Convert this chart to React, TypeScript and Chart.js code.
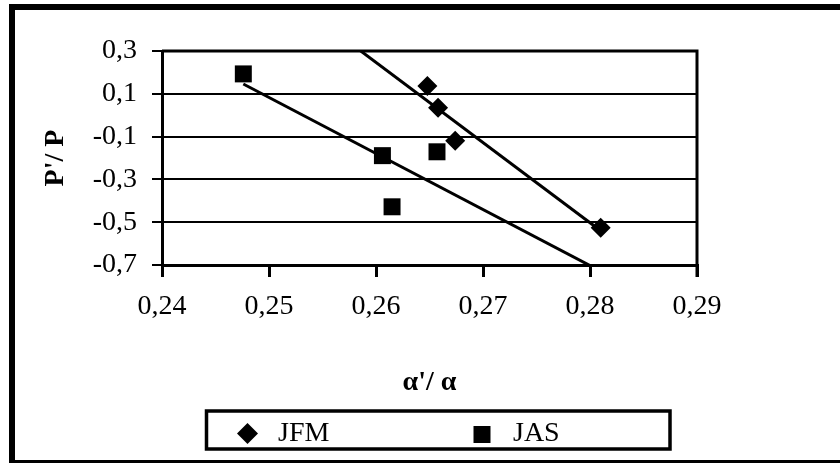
import React, { useEffect, useRef } from 'react';
import { Chart, registerables } from 'chart.js';

Chart.register(...registerables);

// ---- data ----
const seriesLabels = ['JFM', 'JAS'];
const jfmX = [0.2648, 0.2658, 0.2674, 0.281];
const jfmY = [0.136, 0.035, -0.119, -0.526];
const jasX = [0.2476, 0.2606, 0.2615, 0.2657];
const jasY = [0.193, -0.189, -0.428, -0.171];
const xTicks = [0.24, 0.25, 0.26, 0.27, 0.28, 0.29];
const yTicks = [0.3, 0.1, -0.1, -0.3, -0.5, -0.7];
const xTitle = "\u03b1'/ \u03b1";
const yTitle = "P'/ P";

const FONT = "'Liberation Serif', 'Times New Roman', serif";

function linFit(xs: number[], ys: number[]) {
  const n = xs.length;
  const mx = xs.reduce((a, b) => a + b, 0) / n;
  const my = ys.reduce((a, b) => a + b, 0) / n;
  let sxy = 0;
  let sxx = 0;
  for (let i = 0; i < n; i++) {
    sxy += (xs[i] - mx) * (ys[i] - my);
    sxx += (xs[i] - mx) * (xs[i] - mx);
  }
  const slope = sxy / sxx;
  return { slope, intercept: my - slope * mx };
}

function trend(xs: number[], ys: number[], x0: number, x1: number) {
  const { slope, intercept } = linFit(xs, ys);
  return [
    { x: x0, y: slope * x0 + intercept },
    { x: x1, y: slope * x1 + intercept },
  ];
}

const framePlugin = {
  id: 'frames',
  beforeDraw(chart: any) {
    const ctx = chart.ctx;
    ctx.save();
    ctx.fillStyle = '#ffffff';
    ctx.fillRect(0, 0, chart.width, chart.height);
    ctx.restore();
  },
  afterDatasetsDraw(chart: any) {
    const { ctx, chartArea } = chart;
    ctx.save();
    ctx.strokeStyle = '#000';
    ctx.lineWidth = 3;
    ctx.beginPath();
    ctx.moveTo(chartArea.left, chartArea.top);
    ctx.lineTo(chartArea.right, chartArea.top);
    ctx.lineTo(chartArea.right, chartArea.bottom + 12);
    ctx.stroke();
    ctx.restore();
  },
  afterDraw(chart: any) {
    const ctx = chart.ctx;
    ctx.save();
    // outer border
    ctx.strokeStyle = '#000';
    ctx.lineWidth = 6;
    ctx.strokeRect(12, 7, 1000, 456);
    // legend box
    ctx.lineWidth = 3.5;
    ctx.strokeRect(206.5, 411, 463.5, 38);
    const ds = chart.data.datasets.filter((d: any) => seriesLabels.includes(d.label));
    const markerX = [247.5, 482];
    const textX = [278, 513];
    ds.forEach((d: any, i: number) => {
      ctx.fillStyle = '#000';
      const cx = markerX[i];
      const cy = 433.5;
      ctx.beginPath();
      if (d.pointStyle === 'rectRot') {
        const r = 10.5;
        ctx.moveTo(cx - r, cy);
        ctx.lineTo(cx, cy - r);
        ctx.lineTo(cx + r, cy);
        ctx.lineTo(cx, cy + r);
        ctx.closePath();
      } else {
        const s = 8.5;
        ctx.rect(cx - s, cy - s + 1, 2 * s, 2 * s);
      }
      ctx.fill();
      ctx.font = `28px ${FONT}`;
      ctx.textBaseline = 'alphabetic';
      ctx.textAlign = 'left';
      ctx.fillText(d.label, textX[i], 441);
    });
    ctx.restore();
  },
};

export default function App() {
  const ref = useRef<HTMLCanvasElement | null>(null);

  useEffect(() => {
    if (!ref.current) return;
    const allX = [...jfmX, ...jasX];
    const x0 = Math.min(...allX);
    const x1 = Math.max(...allX);

    const chart = new Chart(ref.current, {
      type: 'scatter',
      data: {
        datasets: [
          {
            label: seriesLabels[0],
            data: jfmX.map((x, i) => ({ x, y: jfmY[i] })),
            pointStyle: 'rectRot',
            pointRadius: 10,
            backgroundColor: '#000',
            borderColor: '#000',
            borderWidth: 0,
          },
          {
            label: seriesLabels[1],
            data: jasX.map((x, i) => ({ x, y: jasY[i] })),
            pointStyle: 'rect',
            pointRadius: 12,
            backgroundColor: '#000',
            borderColor: '#000',
            borderWidth: 0,
          },
          {
            label: 'JFM trend',
            type: 'line',
            data: trend(jfmX, jfmY, x0, x1),
            showLine: true,
            pointRadius: 0,
            borderColor: '#000',
            borderWidth: 3,
            fill: false,
          },
          {
            label: 'JAS trend',
            type: 'line',
            data: trend(jasX, jasY, x0, x1),
            showLine: true,
            pointRadius: 0,
            borderColor: '#000',
            borderWidth: 3,
            fill: false,
          },
        ] as any,
      },
      plugins: [framePlugin],
      options: {
        responsive: false,
        animation: false,
        devicePixelRatio: 1,
        layout: { padding: { left: 0, top: 51, right: 143, bottom: 0 } },
        plugins: {
          legend: { display: false },
          tooltip: { enabled: false },
        },
        scales: {
          x: {
            type: 'linear',
            min: xTicks[0],
            max: xTicks[xTicks.length - 1],
            afterBuildTicks: (s: any) => {
              s.ticks = xTicks.map((v) => ({ value: v }));
            },
            afterFit: (s: any) => {
              s.height = 198;
            },
            grid: {
              display: true,
              drawOnChartArea: false,
              drawTicks: true,
              tickLength: 12,
              color: '#000',
              lineWidth: 3,
            },
            border: { display: true, color: '#000', width: 3 },
            ticks: {
              color: '#000',
              padding: 13,
              maxRotation: 0,
              autoSkip: false,
              font: { family: FONT, size: 28 },
              callback: (v: any) => Number(v).toFixed(2).replace('.', ','),
            },
            title: {
              display: true,
              text: xTitle,
              color: '#000',
              font: { family: FONT, size: 28, weight: 'bold' },
              padding: { top: 0, bottom: 63 },
            },
          },
          y: {
            type: 'linear',
            min: yTicks[yTicks.length - 1],
            max: yTicks[0],
            afterBuildTicks: (s: any) => {
              s.ticks = yTicks.map((v) => ({ value: v }));
            },
            afterFit: (s: any) => {
              s.width = 162;
            },
            grid: {
              display: true,
              drawOnChartArea: true,
              drawTicks: true,
              tickLength: 10,
              color: '#000',
              lineWidth: 2,
            },
            border: { display: true, color: '#000', width: 3 },
            ticks: {
              color: '#000',
              padding: 15,
              autoSkip: false,
              font: { family: FONT, size: 28 },
              callback: (v: any) => Number(v).toFixed(1).replace('.', ','),
            },
            title: {
              display: true,
              text: yTitle,
              color: '#000',
              font: { family: FONT, size: 28, weight: 'bold' },
              padding: { top: 39, bottom: 0 },
            },
          },
        },
      } as any,
    });
    return () => chart.destroy();
  }, []);

  return (
    <div style={{ position: 'fixed', left: 0, top: 0, width: 840, height: 463, background: '#fff' }}>
      <canvas ref={ref} width={840} height={463} style={{ display: 'block', width: 840, height: 463 }} />
    </div>
  );
}
